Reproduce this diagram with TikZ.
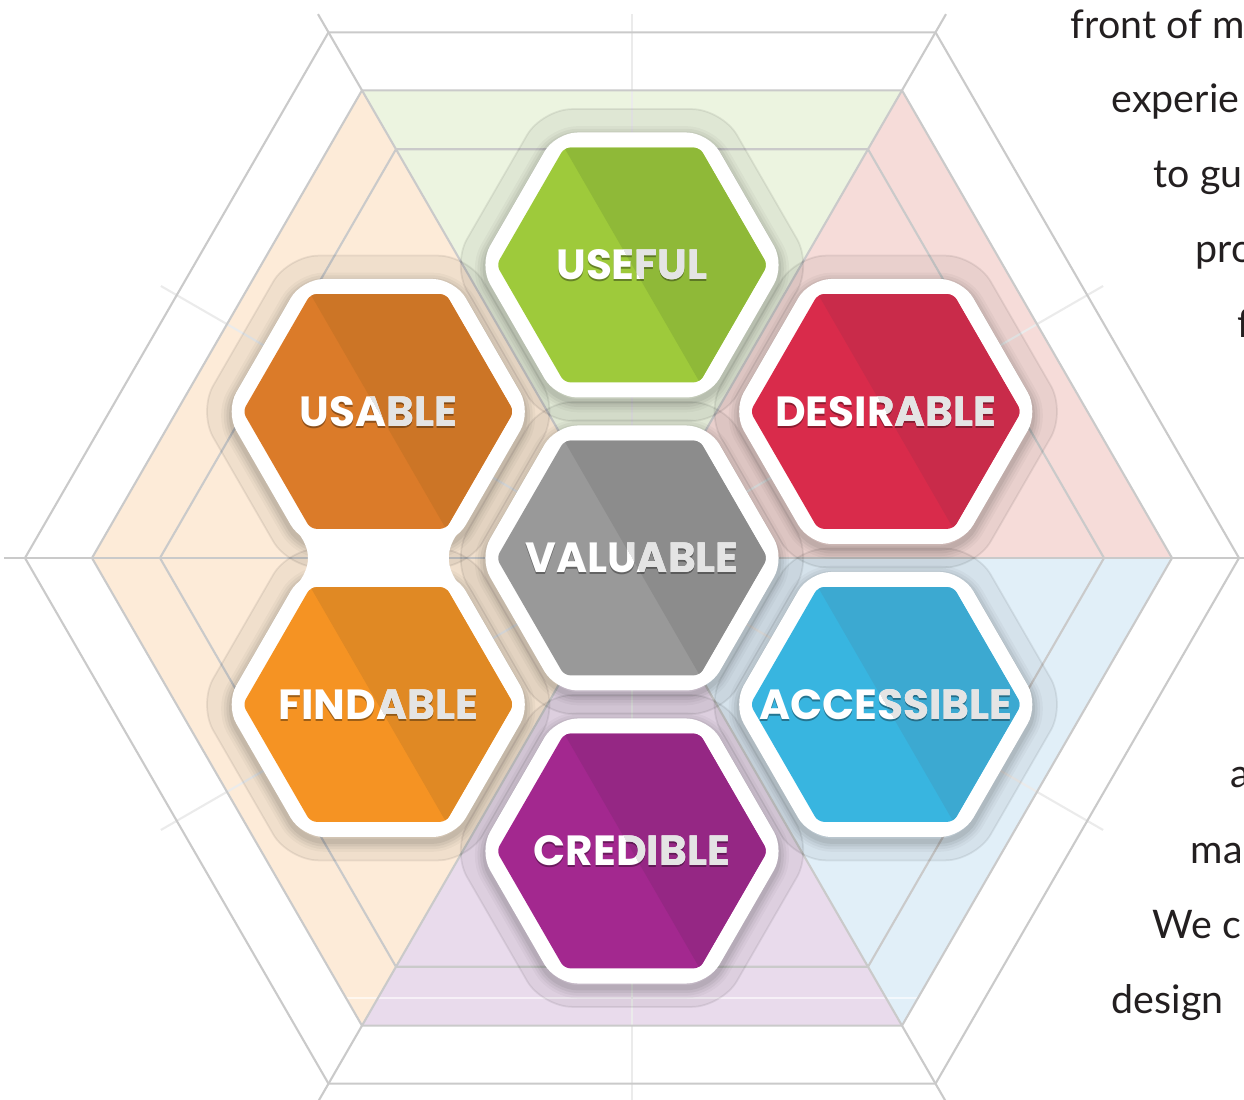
\documentclass[tikz,border=0pt]{standalone}
\usepackage{fontspec}
\setmainfont{Poppins}
\newfontfamily\prosefont{Lato}
\usetikzlibrary{calc}

\definecolor{gridgrey}{HTML}{CACACA}
\definecolor{spokegrey}{HTML}{EBEBEB}
\definecolor{tintgreen}{HTML}{ECF4E0}
\definecolor{tintred}{HTML}{F6DCD9}
\definecolor{tintblue}{HTML}{E1EFF8}
\definecolor{tintpurple}{HTML}{E9DBEC}
\definecolor{tintorange}{HTML}{FDEBD8}
\definecolor{bodytext}{HTML}{231F20}
\definecolor{labelgrey}{HTML}{E4E4E4}

\definecolor{usefulA}{HTML}{9ECA3B}
\definecolor{usefulB}{HTML}{8FB938}
\definecolor{usableA}{HTML}{DB7B29}
\definecolor{usableB}{HTML}{CC7526}
\definecolor{desirableA}{HTML}{D92B4B}
\definecolor{desirableB}{HTML}{C92B4A}
\definecolor{valuableA}{HTML}{999999}
\definecolor{valuableB}{HTML}{8C8C8C}
\definecolor{accessibleA}{HTML}{38B5E0}
\definecolor{accessibleB}{HTML}{3CA9D1}
\definecolor{findableA}{HTML}{F59323}
\definecolor{findableB}{HTML}{E08924}
\definecolor{credibleA}{HTML}{A3288F}
\definecolor{credibleB}{HTML}{952784}

% flat-topped hexagon of circumradius #1 round the current origin
\newcommand{\hexpath}[1]{(0:#1) -- (60:#1) -- (120:#1) -- (180:#1) -- (240:#1) -- (300:#1) -- cycle}

% faint plate under a cell
\newcommand{\hexhalo}[1]{%
  \begin{scope}[shift={#1}]
    \filldraw[tilehalo] \hexpath{1.80};
  \end{scope}}

% one honeycomb cell: name, centre, light colour, dark colour, label
\newcommand{\hextile}[5]{%
  \begin{scope}[shift={#2}]
    \foreach \w/\o in {6pt/.03,4.5pt/.04,3pt/.05,1.5pt/.06}
      \draw[black, opacity=\o, line width=\w, rounded corners=0.22cm, yshift=-1.2pt] \hexpath{1.53};
    \fill[white, rounded corners=0.22cm] \hexpath{1.53};
    \fill[#3, rounded corners=0.06cm] \hexpath{1.355};
    \begin{scope}
      \clip[rounded corners=0.06cm] \hexpath{1.355};
      \fill[#4] (120:1.4) -- (60:1.4) -- (0:1.4) -- (-60:1.4) -- cycle;
    \end{scope}
    \node[tilelabel, text=black, text opacity=.35] (#1-shadow) at (0,-0.02) {#5};
    \node[tilelabel, text=white] (#1) at (0,0) {#5};
    \begin{scope}
      \clip (120:3) -- ++(30:3) -- ++(-60:6) -- ++(210:3) -- cycle;
      \node[tilelabel, text=labelgrey] (#1-right) at (0,0) {#5};
    \end{scope}
  \end{scope}}

\begin{document}
\begin{tikzpicture}[
    gridline/.style={gridgrey, line width=0.6pt},
    spoke/.style={spokegrey, line width=0.6pt},
    tilehalo/.style={fill=black, fill opacity=.05, draw=black, draw opacity=.07,
      line width=0.5pt, rounded corners=0.3cm},
    tilelabel/.style={inner sep=0pt, font=\fontsize{12}{14}\selectfont\bfseries},
    prose/.style={anchor=base west, inner sep=0pt, text=bodytext,
      font=\prosefont\fontsize{11.2}{13}\selectfont}]

  \useasboundingbox (-6.32,-5.42) rectangle (6.12,5.58);
  \clip (-6.32,-5.42) rectangle (6.12,5.58);
  \coordinate (O) at (0,0);

  % coloured sectors of the big hexagon
  \fill[tintgreen] (O) -- (60:5.4) -- (120:5.4) -- cycle;
  \fill[tintred] (O) -- (0:5.4) -- (60:5.4) -- cycle;
  \fill[tintblue] (O) -- (-60:5.4) -- (0:5.4) -- cycle;
  \fill[tintpurple] (O) -- (240:5.4) -- (300:5.4) -- cycle;
  \fill[tintorange] (O) -- (120:5.4) -- (180:5.4) -- (240:5.4) -- cycle;
  \draw[white, opacity=.6, line width=0.4pt] (-3.2,-4.40) -- (3.2,-4.40);

  % the web behind the cells
  \foreach \a in {30,90,...,330}
    \draw[spoke] (O) -- (\a:5.44);
  \foreach \r in {4.72,5.40,6.07}
    \draw[gridline] \hexpath{\r};
  \foreach \a in {0,60,...,300}
    \draw[gridline] (O) -- (\a:6.28);

  \foreach \a in {90,30,...,-210} {\hexhalo{(\a:2.93)}}
  \hexhalo{(O)}

  \hextile{useful}{(90:2.93)}{usefulA}{usefulB}{USEFUL}
  \hextile{usable}{(150:2.93)}{usableA}{usableB}{USABLE}
  \hextile{desirable}{(30:2.93)}{desirableA}{desirableB}{DESIRABLE}
  \hextile{findable}{(210:2.93)}{findableA}{findableB}{FINDABLE}
  \hextile{accessible}{(-30:2.93)}{accessibleA}{accessibleB}{ACCESSIBLE}
  \hextile{credible}{(-90:2.93)}{credibleA}{credibleB}{CREDIBLE}
  \hextile{valuable}{(O)}{valuableA}{valuableB}{VALUABLE}

  % blank gap between the two orange cells
  \fill[white] (-3.36,0.28) .. controls (-3.20,0.09) and (-3.20,-0.09) .. (-3.36,-0.28)
    -- (-1.72,-0.28) .. controls (-1.87,-0.09) and (-1.87,0.09) .. (-1.72,0.28) -- cycle;

  % running text at the right margin
  \node[prose] (line1) at (4.38,5.19) {front of m};
  \node[prose] (line2) at (4.79,4.45) {experie};
  \node[prose] (line3) at (5.21,3.70) {to gu};
  \node[prose] (line4) at (5.63,2.95) {pro};
  \node[prose] (line5) at (6.05,2.20) {f};
  \node[prose] (line6) at (5.98,-2.30) {a};
  \node[prose] (line7) at (5.58,-3.05) {ma};
  \node[prose] (line8) at (5.20,-3.80) {We c};
  \node[prose] (line9) at (4.79,-4.55) {design};
\end{tikzpicture}
\end{document}
